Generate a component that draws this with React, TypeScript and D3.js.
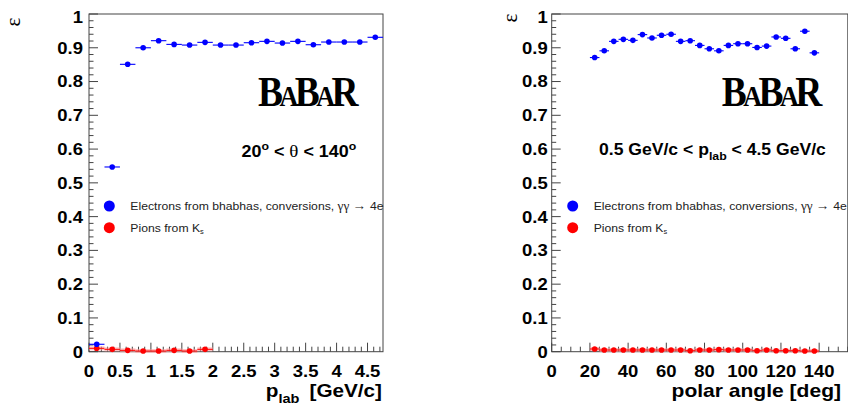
import React from 'react';
import * as d3 from 'd3';

// ---- data ----
const pLabBins = [0.125, 0.375, 0.625, 0.875, 1.125, 1.375, 1.625, 1.875, 2.125, 2.375, 2.625, 2.875, 3.125, 3.375, 3.625, 3.875, 4.125, 4.375, 4.625];
const electronEffVsP = [0.022, 0.547, 0.851, 0.900, 0.921, 0.910, 0.908, 0.916, 0.908, 0.908, 0.915, 0.919, 0.914, 0.919, 0.909, 0.917, 0.917, 0.917, 0.931];
const pionPBins = [0.125, 0.375, 0.625, 0.875, 1.125, 1.375, 1.625, 1.875];
const pionEffVsP = [0.010, 0.007, 0.004, 0.002, 0.002, 0.004, 0.002, 0.007];
const thetaBins = [22.5, 27.5, 32.5, 37.5, 42.5, 47.5, 52.5, 57.5, 62.5, 67.5, 72.5, 77.5, 82.5, 87.5, 92.5, 97.5, 102.5, 107.5, 112.5, 117.5, 122.5, 127.5, 132.5, 137.5];
const electronEffVsTheta = [0.871, 0.891, 0.919, 0.925, 0.922, 0.939, 0.929, 0.937, 0.940, 0.919, 0.921, 0.907, 0.897, 0.891, 0.907, 0.912, 0.912, 0.901, 0.905, 0.932, 0.928, 0.897, 0.949, 0.885];
const pionEffVsTheta = [0.008, 0.005, 0.005, 0.005, 0.005, 0.005, 0.005, 0.005, 0.005, 0.005, 0.003, 0.005, 0.005, 0.006, 0.005, 0.005, 0.005, 0.003, 0.005, 0.003, 0.003, 0.003, 0.002, 0.002];
const pMajorTicks = [0, 0.5, 1, 1.5, 2, 2.5, 3, 3.5, 4, 4.5];
const pTickLabels = ['0', '0.5', '1', '1.5', '2', '2.5', '3', '3.5', '4', '4.5'];
const thetaMajorTicks = [0, 20, 40, 60, 80, 100, 120, 140];
const thetaTickLabels = ['0', '20', '40', '60', '80', '100', '120', '140'];
const yMajorTicks = [0, 0.1, 0.2, 0.3, 0.4, 0.5, 0.6, 0.7, 0.8, 0.9, 1];
const yTickLabels = ['0', '0.1', '0.2', '0.3', '0.4', '0.5', '0.6', '0.7', '0.8', '0.9', '1'];
const legendLabels = ['Electrons from bhabhas, conversions, ', 'Pions from K'];

const SANS = 'Liberation Sans, Arial, Helvetica, sans-serif';
const SERIF = 'Liberation Serif, Times New Roman, serif';
const BLUE = '#0000ff';
const RED = '#ff0000';
const SX = 1.12;

type PanelProps = {
  x: d3.ScaleLinear<number, number>;
  y: d3.ScaleLinear<number, number>;
  majorX: number[];
  labelsX: string[];
  minorStep: number;
  binHalf: number;
  eX: number[];
  eY: number[];
  pX: number[];
  pY: number[];
  labelGap: number;
  epsPos: [number, number];
  logoX: number;
  legendX: number;
  title: React.ReactNode;
  annotation: React.ReactNode;
};

function Panel(p: PanelProps) {
  const { x, y } = p;
  const [x0, x1] = x.range();
  const [yb, yt] = y.range();
  const [d0, d1] = x.domain();
  const minorX: number[] = [];
  for (let i = 0; d0 + i * p.minorStep <= d1 + 1e-9; i++) minorX.push(+(d0 + i * p.minorStep).toFixed(4));
  const minorY: number[] = [];
  for (let i = 0; i <= 50; i++) minorY.push(i * 0.02);
  const errV = 0.004;
  return (
    <g>
      {/* frame */}
      <rect x={x0} y={yt} width={x1 - x0} height={yb - yt} fill="none" stroke="#444" strokeWidth={1} />
      {/* y ticks */}
      {minorY.map((v, i) => (
        <line key={'ym' + i} x1={x0} x2={x0 + (i % 5 === 0 ? 9 : 4.5)} y1={y(v)} y2={y(v)} stroke="#444" strokeWidth={1} />
      ))}
      {/* x ticks */}
      {minorX.map((v, i) => {
        const isMajor = p.majorX.some((m) => Math.abs(m - v) < 1e-6);
        return <line key={'xm' + i} x1={x(v)} x2={x(v)} y1={yb} y2={yb - (isMajor ? 9 : 5)} stroke="#444" strokeWidth={1} />;
      })}
      {/* y labels */}
      {yMajorTicks.map((v, i) => (
        <text key={'yl' + i} transform={`translate(${x0 - p.labelGap},${Math.max(y(v), 17)}) scale(${SX},1)`} textAnchor="end" dy="0.36em" fontFamily={SANS} fontWeight="bold" fontSize={16.5}>
          {yTickLabels[i]}
        </text>
      ))}
      {/* x labels */}
      {p.majorX.map((v, i) => (
        <text key={'xl' + i} transform={`translate(${x(v)},${377}) scale(${SX},1)`} textAnchor="middle" fontFamily={SANS} fontWeight="bold" fontSize={16.5}>
          {p.labelsX[i]}
        </text>
      ))}
      {/* epsilon */}
      <text transform={`translate(${p.epsPos[0]},${p.epsPos[1]}) rotate(-90)`} textAnchor="middle" fontFamily={SERIF} fontSize={21}>
        ε
      </text>
      {/* pions */}
      {p.pX.map((v, i) => (
        <g key={'p' + i}>
          <rect x={x(v - p.binHalf)} y={y(p.pY[i]) - 2} width={x(v + p.binHalf) - x(v - p.binHalf)} height={4} fill="#ff9999" opacity={0.6} />
          <line x1={x(v - p.binHalf)} x2={x(v + p.binHalf)} y1={y(p.pY[i])} y2={y(p.pY[i])} stroke={RED} strokeWidth={1} />
          <circle cx={x(v)} cy={y(p.pY[i])} r={2.8} fill={RED} />
        </g>
      ))}
      {/* electrons */}
      {p.eX.map((v, i) => (
        <g key={'e' + i}>
          <line x1={x(v - p.binHalf)} x2={x(v + p.binHalf)} y1={y(p.eY[i])} y2={y(p.eY[i])} stroke={BLUE} strokeWidth={1.1} />
          <line x1={x(v)} x2={x(v)} y1={y(p.eY[i] - errV)} y2={y(p.eY[i] + errV)} stroke={BLUE} strokeWidth={1.1} />
          <circle cx={x(v)} cy={y(p.eY[i])} r={2.8} fill={BLUE} />
        </g>
      ))}
      {/* logo */}
      <text
        transform={`translate(${p.logoX},106) scale(0.87,1)`}
        fontFamily={SERIF}
        fontWeight="bold"
        fontSize={43}
        letterSpacing={-4}
        style={{ fontVariant: 'small-caps' }}
        fill="#000"
      >
        BaBaR
      </text>
      {p.annotation}
      {/* legend */}
      <circle cx={p.legendX} cy={206} r={5.5} fill={BLUE} />
      <circle cx={p.legendX} cy={227.7} r={5.5} fill={RED} />
      <text transform={`translate(${p.legendX + 21},210) scale(1.06,1)`} fontFamily={SANS} fontSize={11.5} fill="#222">
        {legendLabels[0]}
        <tspan fontFamily={SERIF} fontSize={12.5}>γγ</tspan>
        <tspan fontFamily={SERIF} fontSize={13}> → </tspan>
        <tspan>4e</tspan>
      </text>
      <text transform={`translate(${p.legendX + 21},231.5) scale(1.06,1)`} fontFamily={SANS} fontSize={11.5} fill="#222">
        {legendLabels[1]}
        <tspan fontSize={7} dy={2}>s</tspan>
      </text>
      {p.title}
    </g>
  );
}

export default function App() {
  const yScale = d3.scaleLinear().domain([0, 1]).range([351.7, 14]);
  const xP = d3.scaleLinear().domain([0, 4.75]).range([89, 383]);
  const xT = d3.scaleLinear().domain([0, 155]).range([551.7, 847.8]);
  return (
    <svg width={848} height={410} style={{ position: 'absolute', left: 0, top: 0, background: '#fff' }}>
      <rect x={0} y={0} width={848} height={410} fill="#fff" />
      <Panel
        x={xP}
        y={yScale}
        majorX={pMajorTicks}
        labelsX={pTickLabels}
        minorStep={0.1}
        binHalf={0.125}
        eX={pLabBins}
        eY={electronEffVsP}
        pX={pionPBins}
        pY={pionEffVsP}
        labelGap={6}
        epsPos={[20, 22]}
        logoX={258}
        legendX={109.3}
        annotation={
          <text transform={`translate(241.5,157) scale(${SX},1)`} fontFamily={SANS} fontWeight="bold" fontSize={16}>
            20<tspan fontSize={11} dy={-7}>o</tspan>
            <tspan dy={7}> &lt; </tspan>
            <tspan fontFamily={SERIF} fontWeight="normal" fontSize={17}>θ</tspan>
            <tspan> &lt; 140</tspan>
            <tspan fontSize={11} dy={-7}>o</tspan>
          </text>
        }
        title={
          <text transform={`translate(382,397) scale(${SX},1)`} textAnchor="end" fontFamily={SANS} fontWeight="bold" fontSize={18.5}>
            p<tspan fontSize={13} dy={6}>lab</tspan>
            <tspan dy={-6} dx={9}>[GeV/c]</tspan>
          </text>
        }
      />
      <Panel
        x={xT}
        y={yScale}
        majorX={thetaMajorTicks}
        labelsX={thetaTickLabels}
        minorStep={5}
        binHalf={2.5}
        eX={thetaBins}
        eY={electronEffVsTheta}
        pX={thetaBins}
        pY={pionEffVsTheta}
        labelGap={4}
        epsPos={[517, 18]}
        logoX={721.7}
        legendX={572.7}
        annotation={
          <text transform={`translate(599,155) scale(${SX},1)`} fontFamily={SANS} fontWeight="bold" fontSize={15.7}>
            0.5 GeV/c &lt; p<tspan fontSize={11} dy={5}>lab</tspan>
            <tspan dy={-5}> &lt; 4.5 GeV/c</tspan>
          </text>
        }
        title={
          <text transform={`translate(841,397) scale(${SX},1)`} textAnchor="end" fontFamily={SANS} fontWeight="bold" fontSize={18.8}>
            polar angle [deg]
          </text>
        }
      />
    </svg>
  );
}
